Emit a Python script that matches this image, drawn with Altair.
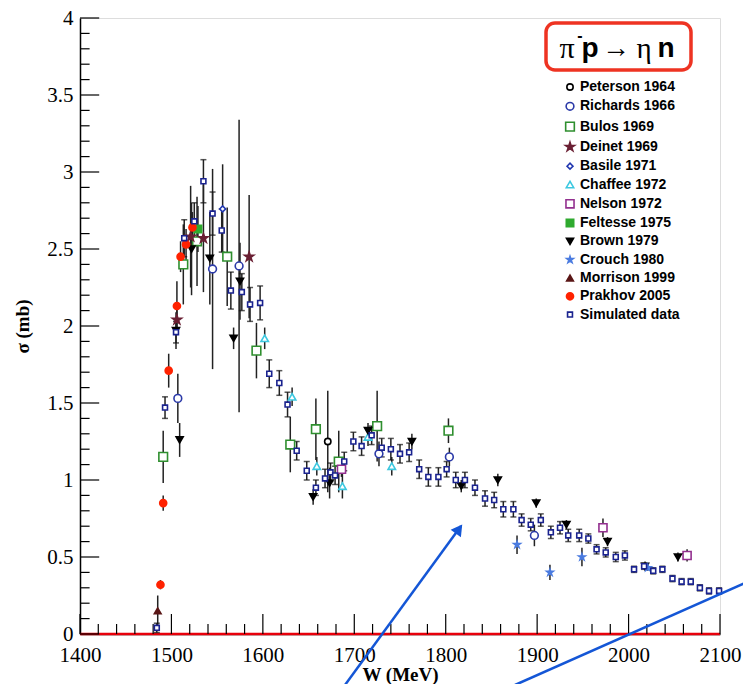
import altair as alt
import pandas as pd

# ---------------- data ----------------
series_names = ["Peterson 1964", "Richards 1966", "Bulos 1969", "Deinet 1969", "Basile 1971",
                "Chaffee 1972", "Nelson 1972", "Feltesse 1975", "Brown 1979", "Crouch 1980",
                "Morrison 1999", "Prakhov 2005", "Simulated data"]

peterson_w = [1671]
peterson_s = [1.25]
peterson_e = [0.33]

richards_w = [1507, 1545, 1574, 1727, 1804, 1897]
richards_s = [1.53, 2.37, 2.39, 1.17, 1.15, 0.64]
richards_e = [0.16, 0.65, 0.95, 0.08, 0.06, 0.07]

bulos_w = [1491, 1513, 1528, 1561, 1593, 1630, 1658, 1683, 1725, 1803]
bulos_s = [1.15, 2.40, 2.55, 2.45, 1.84, 1.23, 1.33, 1.12, 1.35, 1.32]
bulos_e = [0.17, 0.26, 0.29, 0.32, 0.18, 0.18, 0.20, 0.20, 0.23, 0.08]

deinet_w = [1506, 1521, 1535, 1585]
deinet_s = [2.04, 2.58, 2.57, 2.45]
deinet_e = [0.10, 0.33, 0.35, 0.40]

basile_w = [1556]
basile_s = [2.76]
basile_e = [0.29]

chaffee_w = [1602, 1632, 1659, 1687, 1715, 1741]
chaffee_s = [1.92, 1.54, 1.09, 0.96, 1.28, 1.09]
chaffee_e = [0.07, 0.06, 0.06, 0.08, 0.06, 0.06]

nelson_w = [1686, 1972, 2064]
nelson_s = [1.07, 0.69, 0.51]
nelson_e = [0.05, 0.06, 0.04]

feltesse_w = [1529]
feltesse_s = [2.63]
feltesse_e = [0.15]

brown_w = [1505, 1509, 1522, 1542, 1568, 1575, 1655, 1673, 1715, 1763,
           1817, 1857, 1899, 1932, 1977, 2018, 2054]
brown_s = [1.97, 1.26, 2.50, 2.44, 1.92, 2.29, 0.89, 0.98, 1.32, 1.25,
           0.96, 1.00, 0.85, 0.71, 0.60, 0.44, 0.50]
brown_e = [0.12, 0.11, 0.30, 0.30, 0.07, 0.25, 0.05, 0.10, 0.05, 0.05,
           0.04, 0.04, 0.03, 0.03, 0.03, 0.03, 0.03]

crouch_w = [1878, 1914, 1949, 2021]
crouch_s = [0.58, 0.40, 0.50, 0.43]
crouch_e = [0.06, 0.05, 0.06, 0.02]

morrison_w = [1485]
morrison_s = [0.15]
morrison_e = [0.10]

prakhov_w = [1488, 1491, 1497, 1506, 1510, 1516, 1523]
prakhov_s = [0.32, 0.85, 1.71, 2.13, 2.45, 2.53, 2.64]
prakhov_e = [0.03, 0.05, 0.11, 0.16, 0.10, 0.10, 0.10]

sim_w = [1484, 1493, 1505, 1514, 1525, 1535, 1545, 1555, 1565, 1577, 1586, 1597,
         1607, 1618, 1627, 1637, 1648, 1658, 1668, 1674, 1679, 1689, 1699, 1708,
         1719, 1730, 1740, 1750, 1760, 1771, 1781, 1792, 1801, 1811, 1821, 1832,
         1843, 1853, 1863, 1874, 1883, 1893, 1904, 1915, 1925, 1934, 1946, 1956,
         1965, 1975, 1986, 1996, 2006, 2017, 2027, 2037, 2048, 2058, 2068, 2078,
         2088, 2099]
sim_s = [0.04, 1.47, 1.96, 2.57, 2.68, 2.94, 2.73, 2.62, 2.23, 2.22, 2.14, 2.15,
         1.69, 1.63, 1.49, 1.19, 1.06, 0.95, 1.01, 1.05, 1.03, 1.12, 1.25, 1.22,
         1.29, 1.21, 1.20, 1.17, 1.18, 1.07, 1.02, 1.02, 1.07, 1.00, 1.00, 0.95,
         0.88, 0.87, 0.81, 0.81, 0.74, 0.71, 0.74, 0.66, 0.69, 0.64, 0.64, 0.62,
         0.55, 0.53, 0.50, 0.51, 0.42, 0.44, 0.41, 0.42, 0.36, 0.34, 0.34, 0.30,
         0.28, 0.28]
sim_e = [0.03, 0.07, 0.07, 0.12, 0.12, 0.14, 0.14, 0.14, 0.12, 0.12, 0.11, 0.11,
         0.09, 0.08, 0.08, 0.06, 0.06, 0.05, 0.06, 0.06, 0.06, 0.06, 0.06, 0.06,
         0.06, 0.06, 0.07, 0.06, 0.06, 0.06, 0.06, 0.06, 0.05, 0.05, 0.05, 0.05,
         0.05, 0.05, 0.05, 0.05, 0.04, 0.04, 0.04, 0.04, 0.04, 0.04, 0.04, 0.03,
         0.03, 0.03, 0.03, 0.03, 0.02, 0.02, 0.02, 0.02, 0.02, 0.02, 0.02, 0.02,
         0.02, 0.02]

x_major = [1400, 1500, 1600, 1700, 1800, 1900, 2000, 2100]
x_minor = list(range(1400, 2101, 20))
y_major = [0, 0.5, 1, 1.5, 2, 2.5, 3, 3.5, 4]
y_minor = [round(i * 0.1, 1) for i in range(0, 41)]

# styles per series
STAR = ("M0,-1L0.2245,-0.309L0.9511,-0.309L0.3633,0.118L0.5878,0.809L0,0.382"
        "L-0.5878,0.809L-0.3633,0.118L-0.9511,-0.309L-0.2245,-0.309Z")
shapes = ["circle", "circle", "square", STAR, "diamond", "triangle-up", "square", "square",
          "triangle-down", STAR, "triangle-up", "circle", "square"]
strokes = ["#000000", "#2b3aa8", "#2f8f2f", "#6a1f33", "#2036b0", "#3cc8e0", "#93308f",
           "#2faa2f", "#000000", "#4a7be0", "#5a1616", "#ff2200", "#1a238f"]
fills = ["#ffffff", "#ffffff", "#ffffff", "#6a1f33", "#ffffff", "#ffffff", "#ffffff",
         "#2faa2f", "#000000", "#4a7be0", "#5a1616", "#ff2200", "#ffffff"]
sizes = [40, 60, 75, 90, 35, 55, 65, 55, 50, 45, 45, 50, 24]

# ---------------- build table ----------------
groups = [
    (peterson_w, peterson_s, peterson_e), (richards_w, richards_s, richards_e),
    (bulos_w, bulos_s, bulos_e), (deinet_w, deinet_s, deinet_e),
    (basile_w, basile_s, basile_e), (chaffee_w, chaffee_s, chaffee_e),
    (nelson_w, nelson_s, nelson_e), (feltesse_w, feltesse_s, feltesse_e),
    (brown_w, brown_s, brown_e), (crouch_w, crouch_s, crouch_e),
    (morrison_w, morrison_s, morrison_e), (prakhov_w, prakhov_s, prakhov_e),
    (sim_w, sim_s, sim_e),
]
rows = []
for name, (ws, ss, es) in zip(series_names, groups):
    for w, s, e in zip(ws, ss, es):
        rows.append({"series": name, "W": w, "sigma": s, "lo": max(s - e, 0), "hi": s + e})
df = pd.DataFrame(rows)
sim_df = df[df.series == "Simulated data"]

ticks_x = pd.DataFrame({"v": x_minor, "zero": 0.0,
                        "len": [0.13 if v in x_major else 0.065 for v in x_minor]})
ticks_y = pd.DataFrame({"v": y_minor, "start": 1400.0,
                        "len": [1421.0 if abs(v * 2 - round(v * 2)) < 1e-9 else 1410.5 for v in y_minor]})

SERIF = "Liberation Serif"
SANS = "Liberation Sans"

xs = alt.Scale(domain=[1400, 2100], nice=False, zero=False)
ys = alt.Scale(domain=[0, 4], nice=False, zero=False)

X_AX = alt.Axis(values=x_major, format="d", title="W (MeV)",
                tickSize=0, labelFont=SERIF, labelFontSize=21,
                labelColor="black", labelPadding=10,
                titleFont=SERIF, titleFontSize=19, titleFontWeight="bold",
                titleColor="black", titleBaseline="middle", titleY=40,
                domainColor="black", domainWidth=1.5, grid=False,
                labelOverlap=False, labelFlush=False)
Y_AX = alt.Axis(values=y_major, format="~g", title="σ (mb)",
                tickSize=0, labelFont=SERIF, labelFontSize=21,
                labelColor="black", labelPadding=7,
                titleFont=SERIF, titleFontSize=19, titleFontWeight="bold",
                titleColor="black", titleBaseline="middle", titleX=-58,
                domainColor="black", domainWidth=1.5, grid=False,
                labelOverlap=False, labelFlush=False)


def xe(field):
    return alt.X(field, type="quantitative", scale=xs, axis=X_AX)


def ye(field):
    return alt.Y(field, type="quantitative", scale=ys, axis=Y_AX)


base = alt.Chart(df)

err = base.mark_rule(color="#222222", strokeWidth=1.5).encode(
    x=xe("W"), y=ye("lo"), y2="hi:Q")
cap_lo = alt.Chart(sim_df).mark_tick(orient="horizontal", size=6, thickness=1.5, color="#111111").encode(
    x=xe("W"), y=ye("lo"))
cap_hi = alt.Chart(sim_df).mark_tick(orient="horizontal", size=6, thickness=1.5, color="#111111").encode(
    x=xe("W"), y=ye("hi"))

leg = alt.Legend(title=None, orient="none", legendX=483, legendY=62,
                 labelFont=SANS, labelFontWeight="bold", labelFontSize=14, labelColor="black",
                 rowPadding=4.3, labelOffset=3, symbolStrokeWidth=1.6, labelLimit=200)
pts = base.mark_point(filled=False, opacity=1, strokeWidth=1.6).encode(
    x=xe("W"),
    y=ye("sigma"),
    shape=alt.Shape("series:N", scale=alt.Scale(domain=series_names, range=shapes), legend=leg),
    stroke=alt.Stroke("series:N", scale=alt.Scale(domain=series_names, range=strokes), legend=leg),
    fill=alt.Fill("series:N", scale=alt.Scale(domain=series_names, range=fills), legend=leg),
    size=alt.Size("series:N", scale=alt.Scale(type="ordinal", domain=series_names, range=sizes), legend=leg),
)

zero_line = alt.Chart(pd.DataFrame({"y0": [0.0]})).mark_rule(color="#e8000b", strokeWidth=2.5).encode(
    y=ye("y0"))

xt = alt.Chart(ticks_x).mark_rule(color="black", strokeWidth=1.2).encode(
    x=xe("v"), y=ye("zero"), y2="len:Q")
yt = alt.Chart(ticks_y).mark_rule(color="black", strokeWidth=1.2).encode(
    y=ye("v"), x=xe("start"), x2="len:Q")

one = pd.DataFrame({"k": [0]})
box = alt.Chart(one).mark_rect(cornerRadius=9, stroke="#ee3322", strokeWidth=3.5, fill="white").encode(
    x=alt.value(466), x2=alt.value(611), y=alt.value(5), y2=alt.value(52))


def word(txt, xpos, ypos, font, size, weight="normal"):
    return alt.Chart(one).mark_text(text=txt, font=font, fontSize=size, fontWeight=weight, align="center",
                                    baseline="alphabetic", color="black").encode(
        x=alt.value(xpos), y=alt.value(ypos))


t_pi = word("π", 487, 40, SERIF, 30)
t_minus = word("-", 500, 23, SANS, 16, "bold")
t_p = word("p", 510, 39, SANS, 28, "bold")
t_arrow = word("→", 536, 39, SERIF, 28)
t_eta = word("η", 564, 40, SERIF, 29)
t_n = word("n", 586, 39, SANS, 28, "bold")

ann1 = alt.Chart(one).mark_rule(color="#1456d6", strokeWidth=2.5, clip=False).encode(
    x=alt.value(265), y=alt.value(667), x2=alt.value(381), y2=alt.value(508))
head = alt.Chart(one).mark_point(shape="triangle-up", filled=True, color="#1456d6", size=160, angle=36,
                                 opacity=1, clip=False).encode(x=alt.value(379), y=alt.value(511))
ann2 = alt.Chart(one).mark_rule(color="#1456d6", strokeWidth=2.5, clip=False).encode(
    x=alt.value(435), y=alt.value(667), x2=alt.value(665), y2=alt.value(565))

chart = alt.layer(
    zero_line, xt, yt, err, cap_lo, cap_hi, pts,
    box, t_pi, t_minus, t_p, t_arrow, t_eta, t_n, ann1, head, ann2
).properties(
    width=640, height=616,
    padding={"left": 80, "top": 18, "right": 23, "bottom": 50},
    autosize=alt.AutoSizeParams(type="none"),
).configure_view(stroke="black", strokeWidth=1.5).configure(background="white")

chart.save("out.html", embed_options={"renderer": "svg", "actions": False})
